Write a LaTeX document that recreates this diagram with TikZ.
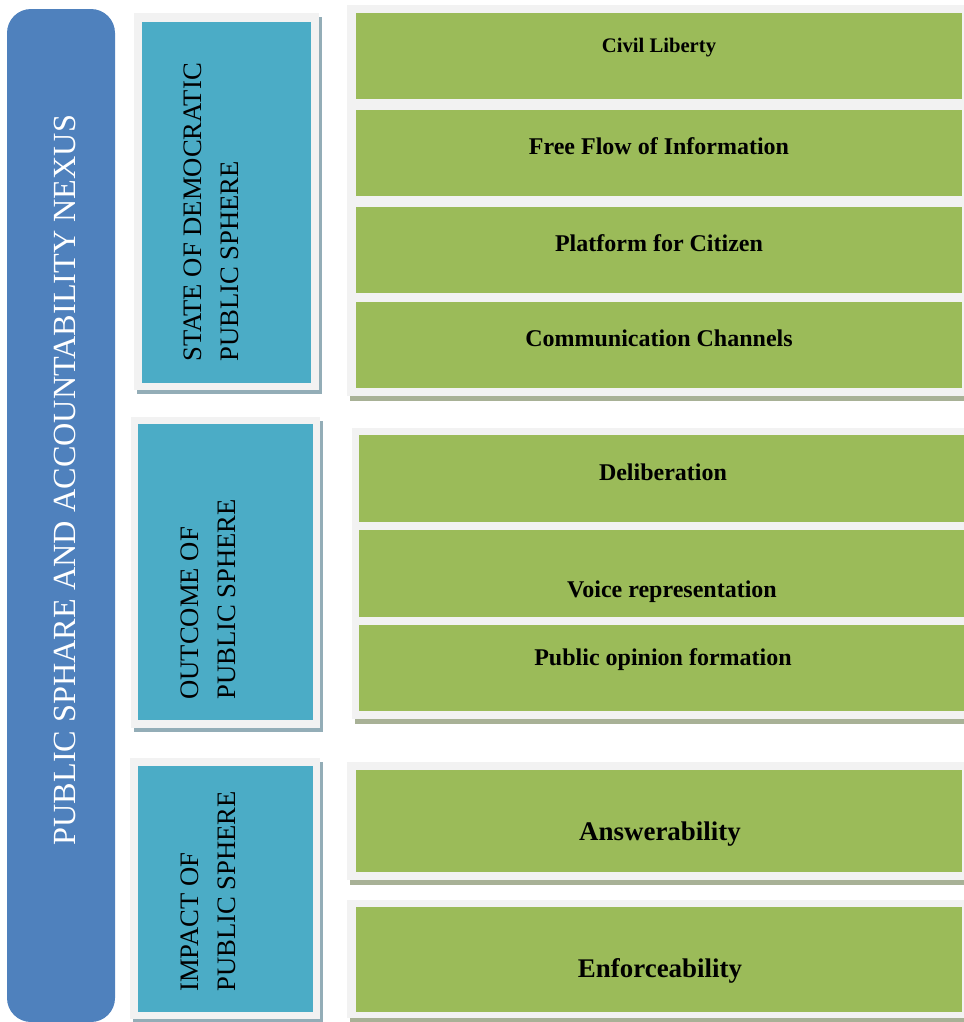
\documentclass[tikz,border=0pt]{standalone}
\usepackage{fontspec}
\setmainfont{Liberation Serif}
\usepackage{xcolor}

\definecolor{nexusblue}{HTML}{4F81BD}
\definecolor{headteal}{HTML}{4BACC6}
\definecolor{itemgreen}{HTML}{9BBB59}
\definecolor{framegrey}{HTML}{F2F2F2}
\definecolor{tealshade}{HTML}{93ADB7}
\definecolor{greenshade}{HTML}{A8B196}

\begin{document}
\begin{tikzpicture}
  [x=0.75pt,y=-0.75pt,every node/.style={inner sep=0pt},
   item/.style={font=\bfseries\fontsize{18}{21}\selectfont},
   bigitem/.style={font=\bfseries\fontsize{20.2}{24}\selectfont},
   head/.style={rotate=90,anchor=west,align=left,font=\fontsize{20}{27.75}\selectfont}]
  \useasboundingbox (0,0) rectangle (964,1022);

  % left bar
  \fill[nexusblue,rounded corners=18pt] (7,9) rectangle (115,1022);
  \node[rotate=90,text=white,font=\fontsize{24.2}{29}\selectfont] (nexus) at (65,480)
    {PUBLIC SPHARE AND ACCOUNTABILITY NEXUS};

  % teal heads
  \foreach \l/\t/\r/\b in {134/13/319/390, 131/417/320/728, 130/758/320/1019}
  {
    \fill[tealshade] (\l+3,\t+4) rectangle (\r+3,\b+4);
    \fill[framegrey] (\l,\t) rectangle (\r,\b);
  }
  \foreach \l/\t/\r/\b in {142/22/311/383, 138/424/313/720, 138/766/313/1012}
    \fill[headteal] (\l,\t) rectangle (\r,\b);

  \node[head] (state) at (211,362) {STATE OF DEMOCRATIC\\PUBLIC SPHERE};
  \node[head] (outcome) at (208,700) {OUTCOME OF\\PUBLIC SPHERE};
  \node[head] (impact) at (208,992) {IMPACT OF\\PUBLIC SPHERE};

  % green items
  \foreach \l/\t/\r/\b in {347/5/966/396, 352/428/966/719, 347/762/966/880, 347/900/966/1018}
  {
    \fill[greenshade] (\l+3,\t+4) rectangle (\r+3,\b+5);
    \fill[framegrey] (\l,\t) rectangle (\r,\b);
  }
  \foreach \l/\t/\r/\b in {356/13/962/99, 356/110/962/196, 356/207/962/293, 356/302/962/388,
                           359/435/964/522, 359/530/964/617, 359/625/964/711,
                           356/770/962/872, 356/907/962/1012}
    \fill[itemgreen] (\l,\t) rectangle (\r,\b);

  \node[item,font=\bfseries\fontsize{15.5}{18}\selectfont] (civil) at (659,48) {Civil Liberty};
  \node[item] (flow) at (659,146) {Free Flow of Information};
  \node[item] (platform) at (659,243) {Platform for Citizen};
  \node[item] (channels) at (659,338) {Communication Channels};
  \node[item] (delib) at (663,472) {Deliberation};
  \node[item] (voice) at (672,592) {Voice representation};
  \node[item] (opinion) at (663,660) {Public opinion formation};
  \node[bigitem] (answer) at (660,834) {Answerability};
  \node[bigitem] (enforce) at (660,971) {Enforceability};
\end{tikzpicture}
\end{document}
